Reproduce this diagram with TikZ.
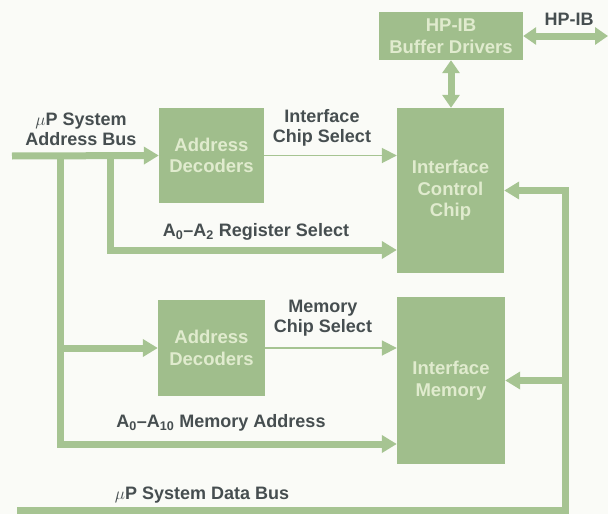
\documentclass[tikz,border=0pt]{standalone}
\usepackage{fontspec}
\setmainfont{Liberation Sans}
\usetikzlibrary{arrows.meta}
\definecolor{sage}{RGB}{160,190,140}
\definecolor{sageline}{RGB}{166,196,146}
\definecolor{boxtext}{RGB}{224,235,206}
\definecolor{labeltext}{RGB}{70,78,80}
\definecolor{paper}{RGB}{250,251,247}
\tikzset{
	block/.style={fill=sage,text=boxtext,font=\bfseries\fontsize{18.5}{21.5}\selectfont,align=center,inner sep=0pt},
	lbl/.style={text=labeltext,font=\bfseries\fontsize{18}{20}\selectfont,align=center,inner sep=0pt},
	bus/.style={draw=sageline,line width=7pt},
	tip/.style={-{Triangle[width=17pt,length=15pt]}},
	dtip/.style={{Triangle[width=17pt,length=13pt]}-{Triangle[width=17pt,length=13pt]}},
	select/.style={draw=sageline,line width=1.8pt,-{Triangle[width=15pt,length=15pt]}},
}

\begin{document}
\begin{tikzpicture}[x=1pt,y=-1pt]
	\fill[paper] (0,0) rectangle (608,514);
	\useasboundingbox (0,0) rectangle (608,514);
	\node[block,minimum width=144pt,minimum height=48pt] (hpib) at (451,36) {HP-IB\\Buffer Drivers};
	\node[block,minimum width=107pt,minimum height=165pt] (ctl) at (450.5,190.5) {Interface\\Control\\Chip};
	\node[block,minimum width=105pt,minimum height=95pt] (dec1) at (211.5,155.5) {Address\\Decoders};
	\node[block,minimum width=107pt,minimum height=96pt] (dec2) at (211.5,348) {Address\\Decoders};
	\node[block,minimum width=108pt,minimum height=167pt] (mem) at (451,380.5) {Interface\\Memory};
	\node[lbl] (hpiblbl) at (569,19) {HP-IB};
	\node[lbl] (addrlbl) at (81,129) {$\mu$P System\\Address Bus};
	\node[lbl] (cslbl) at (322,128) {Interface\\Chip Select};
	\node[lbl] (reglbl) at (256,232) {A\textsubscript{0}--A\textsubscript{2} Register Select};
	\node[lbl] (mcslbl) at (323,318) {Memory\\Chip Select};
	\node[lbl] (malbl) at (221,423) {A\textsubscript{0}--A\textsubscript{10} Memory Address};
	\node[lbl] (datalbl) at (202,495) {$\mu$P System Data Bus};
	\coordinate (busin) at (12,156);
	\coordinate (tapA) at (60,156);
	\coordinate (tapB) at (110,156);
	\coordinate (regy) at (0,250);
	\coordinate (addry) at (0,444);
	\coordinate (hpibout) at (608,36);
	\coordinate (datain) at (17,510);
	\coordinate (dataright) at (565,510);
	\draw[bus,tip] (busin) -- (dec1.west);
	\draw[bus,tip] (tapB) |- (ctl.west |- regy);
	\draw[bus,tip] (tapA) |- (mem.west |- addry);
	\draw[bus,tip] (tapA |- dec2) -- (dec2.west);
	\draw[select] (dec1.east) -- (ctl.west |- dec1.east);
	\draw[select] (dec2.east) -- (mem.west |- dec2.east);
	\draw[bus,dtip] (hpib.east) -- (hpibout);
	\draw[bus,dtip] (hpib.south) -- (hpib.south |- ctl.north);
	\draw[bus,tip] (datain) -| (dataright |- ctl.east) -- (ctl.east);
	\draw[bus,tip] (dataright |- mem.east) -- (mem.east);
\end{tikzpicture}
\end{document}
